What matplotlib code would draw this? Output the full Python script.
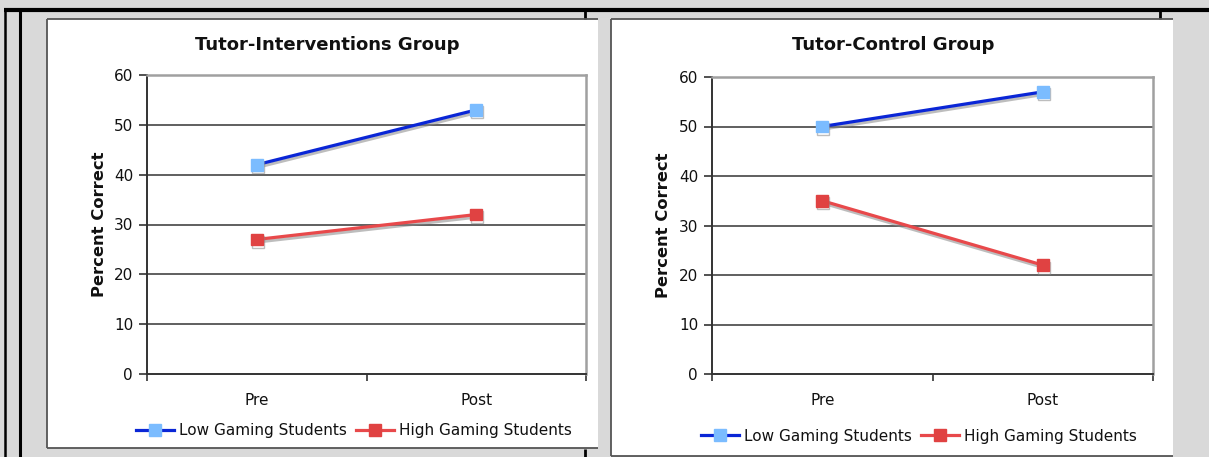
import matplotlib
matplotlib.use("Agg")
import matplotlib.pyplot as plt
import matplotlib.patheffects as pe
from matplotlib.lines import Line2D
from matplotlib.patches import Rectangle

# ---- data ----
phases = ["Pre", "Post"]
yticks = [0, 10, 20, 30, 40, 50, 60]
series_names = ["Low Gaming Students", "High Gaming Students"]
interv_low = [42, 53]
interv_high = [27, 32]
control_low = [50, 57]
control_high = [35, 22]
titles = ["Tutor-Interventions Group", "Tutor-Control Group"]
ylabel = "Percent Correct"

W, H = 1209, 457
plt.rcParams["font.family"] = ["DejaVu Sans"]
fig = plt.figure(figsize=(W / 100, H / 100), dpi=100)
fig.patch.set_facecolor("#d9d9d9")

TXT = "#111111"
LOW_LINE, LOW_MARK = "#0a26d6", "#7bbcff"
HIGH_LINE, HIGH_MARK = "#e8494b", "#e04242"


def fx(x):
    return x / W


def fy(y):
    return 1 - y / H


def hline(x0, x1, y, color, lw):
    fig.add_artist(Line2D([fx(x0), fx(x1)], [fy(y), fy(y)], color=color, lw=lw,
                          transform=fig.transFigure, solid_capstyle="butt"))


def vline(x, y0, y1, color, lw):
    fig.add_artist(Line2D([fx(x), fx(x)], [fy(y0), fy(y1)], color=color, lw=lw,
                          transform=fig.transFigure, solid_capstyle="butt"))


def panel(x0, y0, x1, y1):
    fig.add_artist(Rectangle((fx(x0), fy(y1)), fx(x1 - x0), fy(y0) - fy(y1),
                             transform=fig.transFigure, facecolor="white",
                             edgecolor="none", zorder=0))
    hline(x0, x1, y0, "#555555", 1.3)
    hline(x0, x1, y1, "#555555", 1.3)
    vline(x0, y0, y1, "#555555", 1.3)


# table borders behind the chart panels
hline(4, W, 9.5, "black", 3.0)
vline(5, 9, H, "black", 1.8)
vline(20, 9, H, "black", 2.2)
vline(585, 9, 19, "black", 2.0)
vline(585, 449, H, "black", 2.0)
vline(1160, 9, 19, "black", 2.0)

panel(47, 19, 598, 448)
panel(611, 19, 1173, 456)

shadow = [pe.SimpleLineShadow(offset=(0.8, -1.8), shadow_color="#888888", alpha=0.55),
          pe.Normal()]

series_style = [
    dict(color=LOW_LINE, lw=2.3, marker="s", ms=8.5, mfc=LOW_MARK, mec=LOW_MARK),
    dict(color=HIGH_LINE, lw=2.3, marker="s", ms=8.5, mfc=HIGH_MARK, mec=HIGH_MARK),
]


def make_chart(ax_px, low, high, title, title_x, ylabel_x, legend_xy):
    x0, y0, x1, y1 = ax_px
    ax = fig.add_axes([fx(x0), fy(y1), fx(x1 - x0), fy(y0) - fy(y1)])
    ax.set_facecolor("none")
    xs = range(len(phases))
    for vals, name, st in zip((low, high), series_names, series_style):
        ax.plot(xs, vals, label=name, path_effects=shadow, zorder=4,
                clip_on=False, **st)
    ax.set_xlim(-0.5, len(phases) - 0.5)
    ax.set_ylim(0, 60)
    ax.set_yticks(yticks)
    ax.tick_params(axis="y", direction="out", length=6, width=1.2, color="#333333",
                   labelsize=11, labelcolor=TXT, pad=4)
    for v in yticks[1:-1]:
        ax.axhline(v, color="#444444", lw=1.2, zorder=1)
    ax.set_xticks([-0.5, 0.5, 1.5])
    ax.set_xticklabels([])
    ax.tick_params(axis="x", which="major", direction="out", length=5, width=1.2,
                   color="#333333")
    ax.set_xticks(list(xs), minor=True)
    ax.set_xticklabels(phases, minor=True)
    ax.tick_params(axis="x", which="minor", length=0, labelsize=11,
                   labelcolor=TXT, pad=14)
    for s in ("left", "bottom"):
        ax.spines[s].set_color("#333333")
        ax.spines[s].set_linewidth(1.4)
    for s in ("top", "right"):
        ax.spines[s].set_color("#a0a0a0")
        ax.spines[s].set_linewidth(1.8)
    fig.text(fx(title_x), fy(45), title, ha="center", va="center",
             fontsize=13, fontweight="bold", color=TXT)
    fig.text(fx(ylabel_x), fy((y0 + y1) / 2), ylabel, rotation=90, ha="center",
             va="center", fontsize=11.8, fontweight="bold", color=TXT)
    # legend keys are drawn flat, without the drop shadow
    handles = [Line2D([], [], **st) for st in series_style]
    fig.legend(handles=handles, labels=series_names, loc="center",
               bbox_to_anchor=(fx(legend_xy[0]), fy(legend_xy[1])), ncol=2,
               frameon=False, fontsize=11, handlelength=2.5, handletextpad=0.3,
               columnspacing=0.6, labelcolor=TXT, borderaxespad=0, borderpad=0)
    return ax


make_chart((147, 75, 586, 374), interv_low, interv_high, titles[0], 327, 99, (354, 431))
make_chart((712, 77, 1153, 374), control_low, control_high, titles[1], 893, 663, (919, 436))

fig.savefig("out.png", dpi=100, facecolor=fig.get_facecolor())
